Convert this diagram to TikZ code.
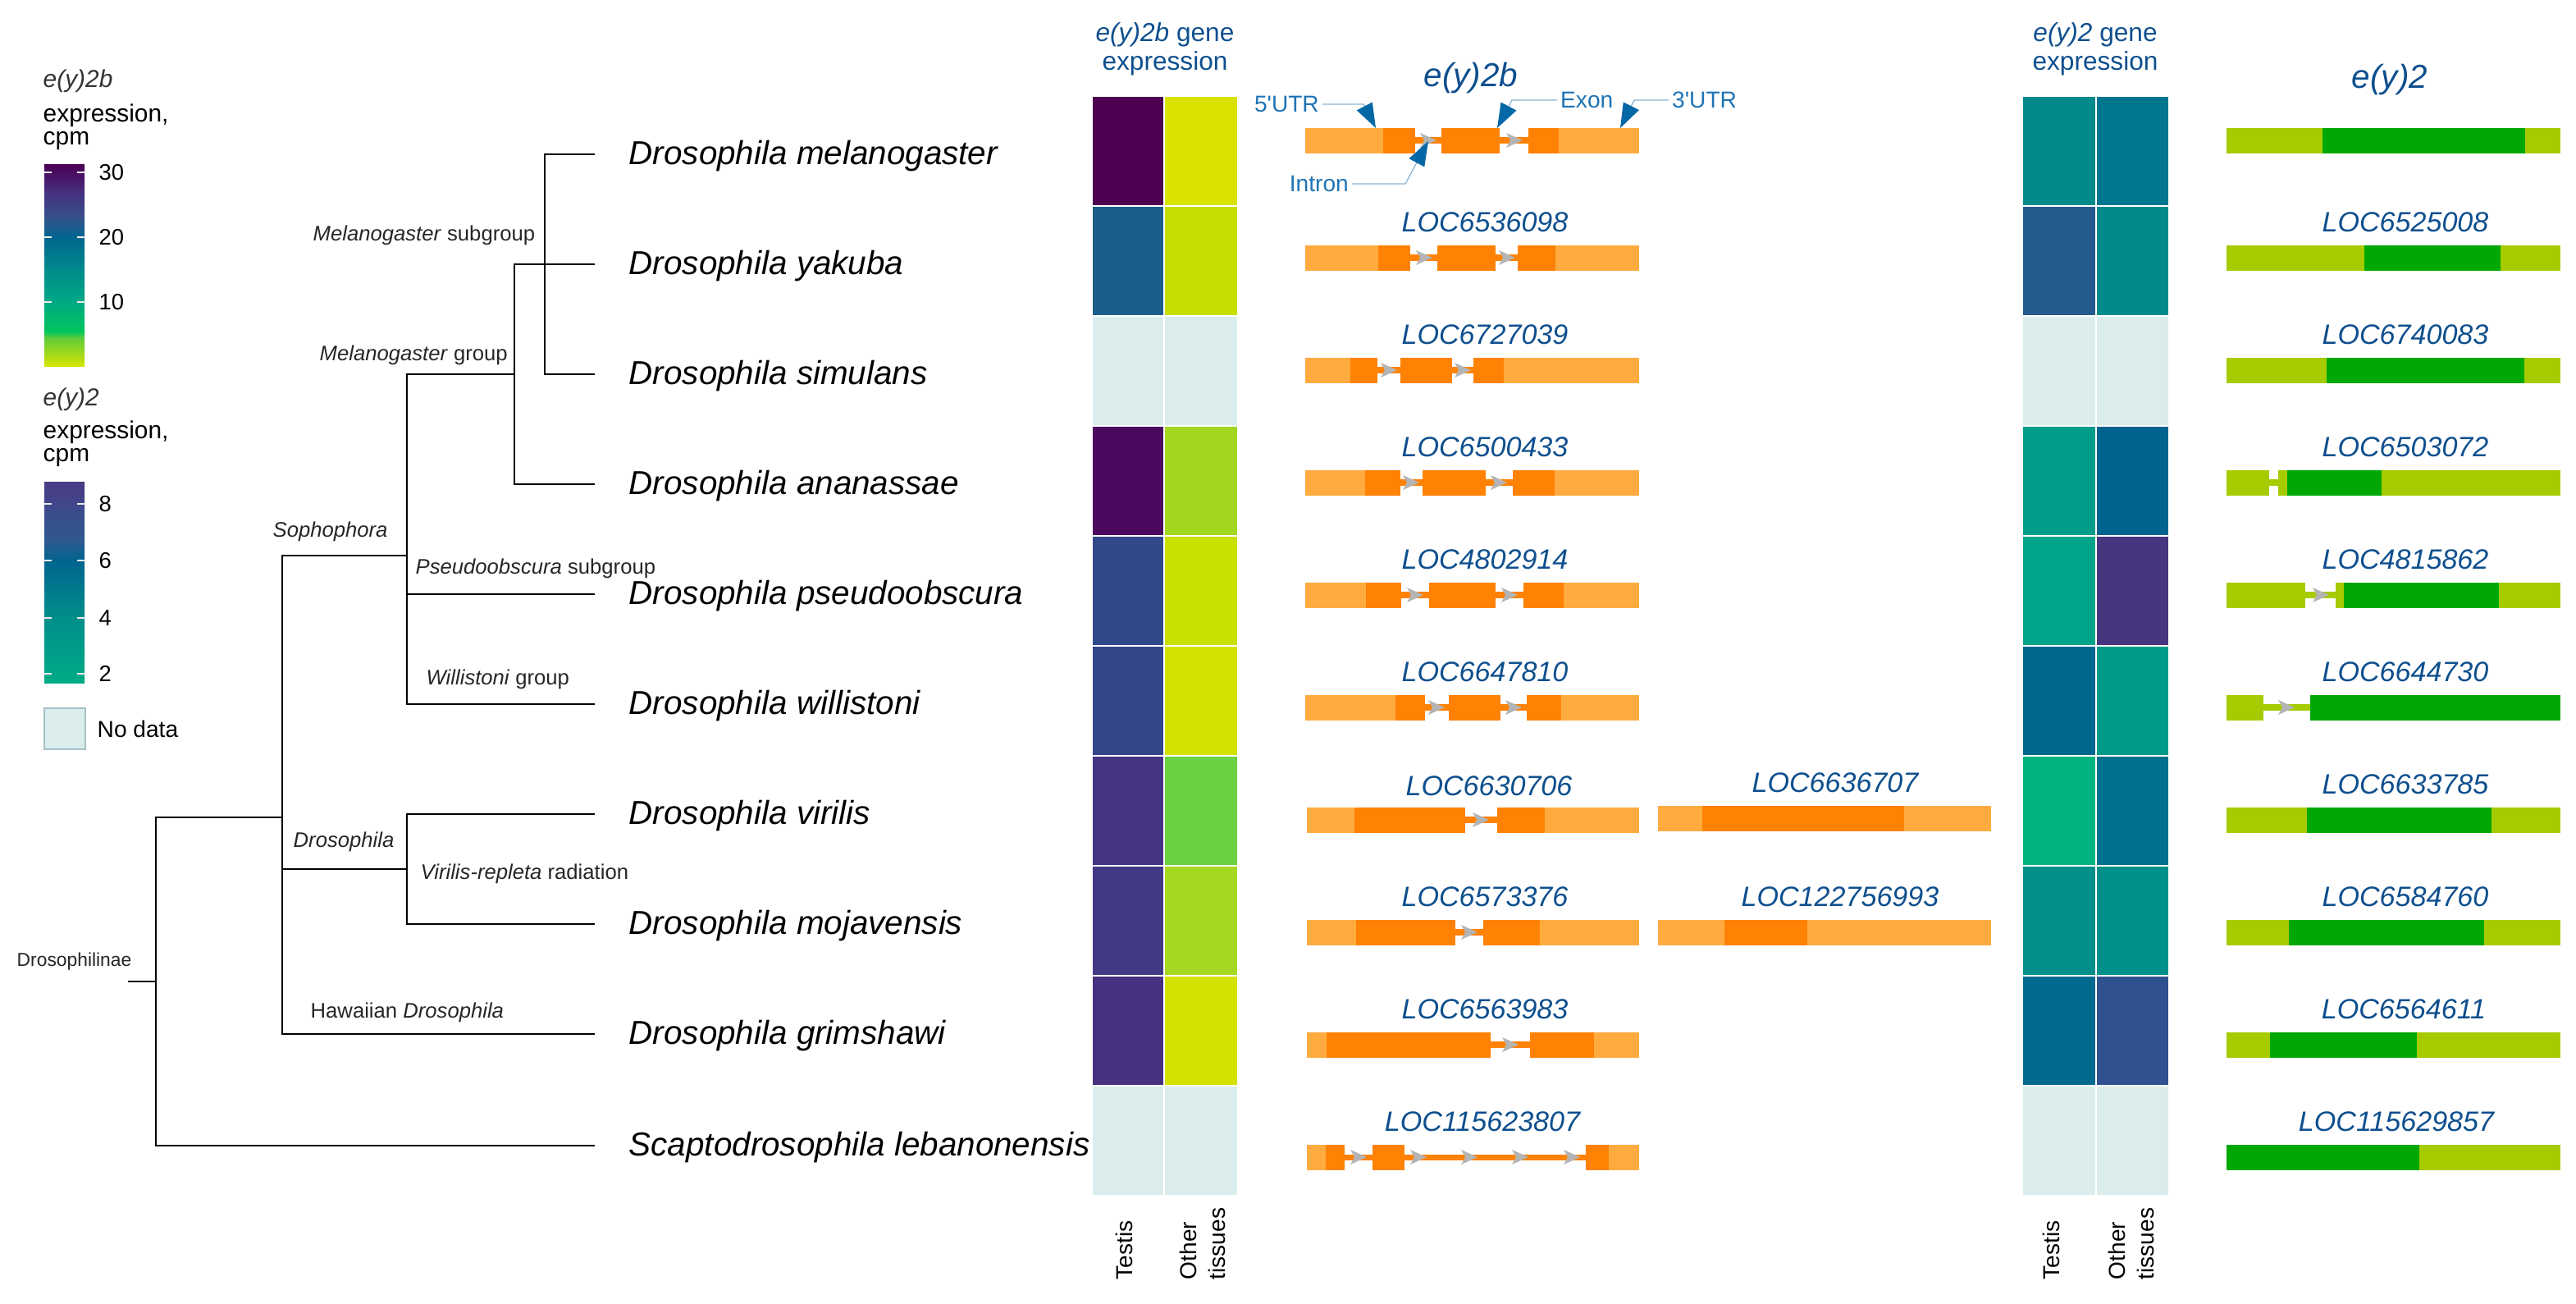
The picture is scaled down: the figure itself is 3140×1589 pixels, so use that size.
\documentclass[tikz,border=0pt]{standalone}
\usepackage{fontspec}
\setmainfont{Liberation Sans}
\usetikzlibrary{arrows.meta}

\definecolor{locblue}{HTML}{0E4F8E}
\definecolor{annblue}{HTML}{1E73B4}
\definecolor{annarrow}{HTML}{0568A6}
\definecolor{leadblue}{HTML}{8AB2D0}
\definecolor{orglight}{HTML}{FFAB40}
\definecolor{orgdark}{HTML}{FF8205}
\definecolor{grnlight}{HTML}{A6CB00}
\definecolor{grndark}{HTML}{00A806}
\definecolor{arrgray}{HTML}{B4B4B4}
\definecolor{nodata}{HTML}{DAEDEC}
\definecolor{nodataedge}{HTML}{A6C0C6}
% heatmap cells
\definecolor{bT1}{HTML}{4D0052}\definecolor{bT2}{HTML}{1A5F8C}\definecolor{bT4}{HTML}{4B0A5D}
\definecolor{bT5}{HTML}{31488A}\definecolor{bT6}{HTML}{334689}\definecolor{bT7}{HTML}{453383}
\definecolor{bT8}{HTML}{413886}\definecolor{bT9}{HTML}{46307F}
\definecolor{bO1}{HTML}{DAE300}\definecolor{bO2}{HTML}{C6DF00}\definecolor{bO4}{HTML}{A3D71F}
\definecolor{bO5}{HTML}{CAE000}\definecolor{bO6}{HTML}{D2E200}\definecolor{bO7}{HTML}{6AD240}
\definecolor{bO8}{HTML}{A6D822}\definecolor{bO9}{HTML}{D4E200}
\definecolor{cT1}{HTML}{008A8B}\definecolor{cT2}{HTML}{255A8E}\definecolor{cT4}{HTML}{009E8A}
\definecolor{cT5}{HTML}{00A48A}\definecolor{cT6}{HTML}{00688F}\definecolor{cT7}{HTML}{00B581}
\definecolor{cT8}{HTML}{008F8A}\definecolor{cT9}{HTML}{006A8F}
\definecolor{cO1}{HTML}{00768F}\definecolor{cO2}{HTML}{008A8B}\definecolor{cO4}{HTML}{00638F}
\definecolor{cO5}{HTML}{48357F}\definecolor{cO6}{HTML}{009A89}\definecolor{cO7}{HTML}{00718F}
\definecolor{cO8}{HTML}{00908A}\definecolor{cO9}{HTML}{30518F}
% colour bars
\definecolor{gA0}{HTML}{4B0055}\definecolor{gA1}{HTML}{46307F}\definecolor{gA2}{HTML}{35518A}
\definecolor{gA3}{HTML}{00668F}\definecolor{gA4}{HTML}{008C8B}\definecolor{gA5}{HTML}{00A985}
\definecolor{gA6}{HTML}{00C65C}\definecolor{gA7}{HTML}{5ECB3A}\definecolor{gA8}{HTML}{D6E500}
\definecolor{gB0}{HTML}{4A3A85}\definecolor{gB1}{HTML}{3F478A}\definecolor{gB2}{HTML}{2D5A8F}
\definecolor{gB3}{HTML}{00648F}\definecolor{gB4}{HTML}{007B8D}\definecolor{gB5}{HTML}{008E8B}
\definecolor{gB6}{HTML}{009E89}\definecolor{gB7}{HTML}{00AC84}

\begin{document}
\begin{tikzpicture}[x=0.1mm, y=-0.1mm,
    sp/.style={anchor=west, inner sep=0pt, font=\fontsize{11.5}{13}\selectfont\itshape},
    clade/.style={anchor=west, inner sep=0pt, text=black!85, font=\fontsize{7.3}{9}\selectfont},
    branch/.style={line width=0.7pt},
    cell/.style={draw=white, line width=0.6pt},
    hdr/.style={align=center, text=locblue, font=\fontsize{9}{9.8}\selectfont},
    ttl/.style={text=locblue, font=\fontsize{11.5}{13}\selectfont\itshape},
    loc/.style={text=locblue, font=\fontsize{9.7}{11}\selectfont\itshape},
    tis/.style={rotate=90, anchor=west, align=left, inner sep=0pt, font=\fontsize{8}{10}\selectfont},
    ann/.style={text=annblue, inner sep=1pt, font=\fontsize{8}{9}\selectfont},
    lead/.style={draw=leadblue, line width=0.35pt, -{Triangle[length=8.5pt, width=6pt, color=annarrow]}},
    leg/.style={anchor=west, inner sep=0pt, font=\fontsize{8.5}{10}\selectfont},
    legnum/.style={anchor=west, inner sep=0pt, font=\fontsize{7.8}{9}\selectfont},
    tick/.style={draw=white!85!gray, line width=0.5pt},
    intA/.style={draw=orgdark, line width=2pt},
    intB/.style={draw=grnlight, line width=2pt},
    utrA/.style={fill=orglight}, cdsA/.style={fill=orgdark},
    utrB/.style={fill=grnlight}, cdsB/.style={fill=grndark},
    arr/.style={fill=arrgray}]
\useasboundingbox (0,0) rectangle (3140,1589);

% legend
\node[leg, text=black!80] (lgA) at (52,99) {\textit{e(y)2b}};
\node[leg] (lgA2) at (52,141) {expression,};
\node[leg] (lgA3) at (52,172) {cpm};
\foreach \ya/\yb/\ca/\cb in {201/235/gA0/gA1, 235/265/gA1/gA2, 265/289/gA2/gA3, 289/330/gA3/gA4,
    330/368/gA4/gA5, 368/404/gA5/gA6, 404/412/gA6/gA7, 412/446/gA7/gA8}
  \shade[top color=\ca, bottom color=\cb] (54,\ya-0.5) rectangle (103,\yb+0.5);
\foreach \t/\v in {210/30, 289/20, 368/10} {
  \draw[tick] (54,\t) -- (63,\t); \draw[tick] (94,\t) -- (103,\t);
  \node[legnum] (lA\v) at (120,\t) {\v};
}
\node[leg, text=black!80] (lgB) at (52,487) {\textit{e(y)2}};
\node[leg] (lgB2) at (52,527) {expression,};
\node[leg] (lgB3) at (52,558) {cpm};
\foreach \ya/\yb/\ca/\cb in {588/614/gB0/gB1, 614/660/gB1/gB2, 660/683/gB2/gB3, 683/720/gB3/gB4,
    720/753/gB4/gB5, 753/795/gB5/gB6, 795/832/gB6/gB7}
  \shade[top color=\ca, bottom color=\cb] (54,\ya-0.5) rectangle (103,\yb+0.5);
\foreach \t/\v in {614/8, 683/6, 753/4, 821/2} {
  \draw[tick] (54,\t) -- (63,\t); \draw[tick] (94,\t) -- (103,\t);
  \node[legnum] (lB\v) at (120,\t) {\v};
}
\filldraw[fill=nodata, draw=nodataedge, line width=0.6pt] (54,863) rectangle (104,913);
\node[legnum, font=\fontsize{8}{9}\selectfont] (lgNo) at (118,888) {No data};

% tree
\coordinate (rootL) at (156,1196);
\coordinate (nRoot) at (190,1196);
\coordinate (nDros) at (344,996);
\coordinate (nSoph) at (496,677);
\coordinate (nDsub) at (496,1059);
\coordinate (nMgrp) at (627,456);
\coordinate (nMsub) at (664,322);
\foreach \n/\y in {Mel/188, Yak/322, Sim/456, Ana/590, Pse/724, Wil/858, Vir/992, Moj/1126, Gri/1260, Scap/1396}
  \coordinate (t\n) at (725,\y);
\draw[branch] (rootL) -- (nRoot);
\draw[branch] (nRoot) |- (nDros);
\draw[branch] (nRoot) |- (tScap);
\draw[branch] (nDros) |- (nSoph);
\draw[branch] (nDros) |- (nDsub);
\draw[branch] (nDros) |- (tGri);
\draw[branch] (nSoph) |- (nMgrp);
\draw[branch] (nSoph) |- (tPse);
\draw[branch] (nSoph) |- (tWil);
\draw[branch] (nMgrp) |- (tYak);
\draw[branch] (nMgrp) |- (tAna);
\draw[branch] (nMsub) |- (tMel);
\draw[branch] (nMsub) |- (tSim);
\draw[branch] (nDsub) |- (tVir);
\draw[branch] (nDsub) |- (tMoj);

\node[clade, font=\fontsize{6.5}{8}\selectfont] (cRoot) at (20,1172) {Drosophilinae};
\node[clade] (cMsub) at (381,287) {\textit{Melanogaster} subgroup};
\node[clade] (cMgrp) at (389,433) {\textit{Melanogaster} group};
\node[clade] (cSoph) at (332,648) {\textit{Sophophora}};
\node[clade] (cPse) at (506,693) {\textit{Pseudoobscura} subgroup};
\node[clade] (cWil) at (519,828) {\textit{Willistoni} group};
\node[clade] (cDros) at (357,1026) {\textit{Drosophila}};
\node[clade] (cVir) at (512,1065) {\textit{Virilis-repleta} radiation};
\node[clade] (cHaw) at (378,1234) {Hawaiian \textit{Drosophila}};

\node[sp] (sMel) at (766,190) {Drosophila melanogaster};
\node[sp] (sYak) at (766,324) {Drosophila yakuba};
\node[sp] (sSim) at (766,458) {Drosophila simulans};
\node[sp] (sAna) at (766,592) {Drosophila ananassae};
\node[sp] (sPse) at (766,726) {Drosophila pseudoobscura};
\node[sp] (sWil) at (766,860) {Drosophila willistoni};
\node[sp] (sVir) at (766,994) {Drosophila virilis};
\node[sp] (sMoj) at (766,1128) {Drosophila mojavensis};
\node[sp] (sGri) at (766,1262) {Drosophila grimshawi};
\node[sp] (sScap) at (766,1398) {Scaptodrosophila lebanonensis};

% heatmaps
\node[hdr] (hdA) at (1420,60) {\textit{e(y)2b} gene\\expression};
\node[hdr] (hdB) at (2554,60) {\textit{e(y)2} gene\\expression};
\foreach \k/\ct/\co/\dt/\do in {0/bT1/bO1/cT1/cO1, 1/bT2/bO2/cT2/cO2, 2/nodata/nodata/nodata/nodata,
    3/bT4/bO4/cT4/cO4, 4/bT5/bO5/cT5/cO5, 5/bT6/bO6/cT6/cO6, 6/bT7/bO7/cT7/cO7,
    7/bT8/bO8/cT8/cO8, 8/bT9/bO9/cT9/cO9, 9/nodata/nodata/nodata/nodata} {
  \filldraw[cell, fill=\ct] (1331,117+134*\k) rectangle (1419,251+134*\k);
  \filldraw[cell, fill=\co] (1419,117+134*\k) rectangle (1509,251+134*\k);
  \filldraw[cell, fill=\dt] (2465,117+134*\k) rectangle (2555,251+134*\k);
  \filldraw[cell, fill=\do] (2555,117+134*\k) rectangle (2644,251+134*\k);
}
\node[tis] (tsA) at (1370,1560) {Testis};
\node[tis] (otA) at (1466,1560) {Other\\tissues};
\node[tis] (tsB) at (2500,1560) {Testis};
\node[tis] (otB) at (2598,1560) {Other\\tissues};

% e(y)2b gene models
\node[ttl] (tA) at (1793,95) {e(y)2b};
\draw[intA] (1725,171) -- (1863,171);
\foreach \s/\a/\b in {utrA/1591/1686, cdsA/1686/1725, cdsA/1757/1828, cdsA/1863/1900, utrA/1900/1998}
  \fill[\s] (\a,171-15.5) rectangle (\b,171+15.5);
\foreach \m in {1741,1846} \fill[arr] (\m-10,162) -- (\m+10,171) -- (\m-10,180) -- (\m-5,171) -- cycle;

\node[loc] (gA2) at (1810,271) {LOC6536098};
\draw[intA] (1719,314) -- (1850,314);
\foreach \s/\a/\b in {utrA/1591/1680, cdsA/1680/1719, cdsA/1752/1823, cdsA/1850/1896, utrA/1896/1998}
  \fill[\s] (\a,314-15.5) rectangle (\b,314+15.5);
\foreach \m in {1736,1837} \fill[arr] (\m-10,305) -- (\m+10,314) -- (\m-10,323) -- (\m-5,314) -- cycle;

\node[loc] (gA3) at (1810,408) {LOC6727039};
\draw[intA] (1679,451) -- (1796,451);
\foreach \s/\a/\b in {utrA/1591/1646, cdsA/1646/1679, cdsA/1707/1770, cdsA/1796/1833, utrA/1833/1998}
  \fill[\s] (\a,451-15.5) rectangle (\b,451+15.5);
\foreach \m in {1693,1783} \fill[arr] (\m-10,442) -- (\m+10,451) -- (\m-10,460) -- (\m-5,451) -- cycle;

\node[loc] (gA4) at (1810,545) {LOC6500433};
\draw[intA] (1707,588) -- (1844,588);
\foreach \s/\a/\b in {utrA/1591/1664, cdsA/1664/1707, cdsA/1734/1811, cdsA/1844/1895, utrA/1895/1998}
  \fill[\s] (\a,588-15.5) rectangle (\b,588+15.5);
\foreach \m in {1720,1827} \fill[arr] (\m-10,579) -- (\m+10,588) -- (\m-10,597) -- (\m-5,588) -- cycle;

\node[loc] (gA5) at (1810,682) {LOC4802914};
\draw[intA] (1708,725) -- (1857,725);
\foreach \s/\a/\b in {utrA/1591/1665, cdsA/1665/1708, cdsA/1742/1823, cdsA/1857/1906, utrA/1906/1998}
  \fill[\s] (\a,725-15.5) rectangle (\b,725+15.5);
\foreach \m in {1725,1840} \fill[arr] (\m-10,716) -- (\m+10,725) -- (\m-10,734) -- (\m-5,725) -- cycle;

\node[loc] (gA6) at (1810,819) {LOC6647810};
\draw[intA] (1737,862) -- (1861,862);
\foreach \s/\a/\b in {utrA/1591/1701, cdsA/1701/1737, cdsA/1766/1829, cdsA/1861/1903, utrA/1903/1998}
  \fill[\s] (\a,862-15.5) rectangle (\b,862+15.5);
\foreach \m in {1751,1845} \fill[arr] (\m-10,853) -- (\m+10,862) -- (\m-10,871) -- (\m-5,862) -- cycle;

\node[loc] (gA7) at (1815,958) {LOC6630706};
\draw[intA] (1786,999) -- (1825,999);
\foreach \s/\a/\b in {utrA/1593/1651, cdsA/1651/1786, cdsA/1825/1883, utrA/1883/1998}
  \fill[\s] (\a,999-15.5) rectangle (\b,999+15.5);
\fill[arr] (1795,990) -- (1815,999) -- (1795,1008) -- (1800,999) -- cycle;
\node[loc] (gA7b) at (2237,954) {LOC6636707};
\foreach \s/\a/\b in {utrA/2021/2075, cdsA/2075/2321, utrA/2321/2427}
  \fill[\s] (\a,997-15.5) rectangle (\b,997+15.5);

\node[loc] (gA8) at (1810,1093) {LOC6573376};
\draw[intA] (1774,1136) -- (1808,1136);
\foreach \s/\a/\b in {utrA/1593/1653, cdsA/1653/1774, cdsA/1808/1877, utrA/1877/1998}
  \fill[\s] (\a,1136-15.5) rectangle (\b,1136+15.5);
\fill[arr] (1781,1127) -- (1801,1136) -- (1781,1145) -- (1786,1136) -- cycle;
\node[loc] (gA8b) at (2243,1093) {LOC122756993};
\foreach \s/\a/\b in {utrA/2021/2102, cdsA/2102/2203, utrA/2203/2427}
  \fill[\s] (\a,1136-15.5) rectangle (\b,1136+15.5);

\node[loc] (gA9) at (1810,1230) {LOC6563983};
\draw[intA] (1817,1273) -- (1865,1273);
\foreach \s/\a/\b in {utrA/1593/1617, cdsA/1617/1817, cdsA/1865/1943, utrA/1943/1998}
  \fill[\s] (\a,1273-15.5) rectangle (\b,1273+15.5);
\fill[arr] (1831,1264) -- (1851,1273) -- (1831,1282) -- (1836,1273) -- cycle;

\node[loc] (gA10) at (1807,1367) {LOC115623807};
\draw[intA] (1639,1410) -- (1933,1410);
\foreach \s/\a/\b in {utrA/1593/1616, cdsA/1616/1639, cdsA/1673/1712, cdsA/1933/1961, utrA/1961/1998}
  \fill[\s] (\a,1410-15.5) rectangle (\b,1410+15.5);
\foreach \m in {1656,1729,1791,1853,1916} \fill[arr] (\m-10,1401) -- (\m+10,1410) -- (\m-10,1419) -- (\m-5,1410) -- cycle;

% annotations on the first model
\node[ann, anchor=east] (aU5) at (1612,127) {5\textquotesingle UTR};
\node[ann, anchor=west] (aEx) at (1898,122) {Exon};
\node[ann, anchor=west] (aU3) at (2034,122) {3\textquotesingle UTR};
\node[ann, anchor=east] (aIn) at (1648,224) {Intron};
\coordinate (kU5) at (1662,127); \coordinate (pU5) at (1677,156);
\coordinate (kEx) at (1843,122); \coordinate (pEx) at (1825,156);
\coordinate (kU3) at (1992,122); \coordinate (pU3) at (1975,156);
\coordinate (kIn) at (1713,224); \coordinate (pIn) at (1741,172);
\draw[lead] (aU5) -- (kU5) -- (pU5);
\draw[lead] (aEx) -- (kEx) -- (pEx);
\draw[lead] (aU3) -- (kU3) -- (pU3);
\draw[lead] (aIn) -- (kIn) -- (pIn);

% e(y)2 gene models
\node[ttl] (tB) at (2913,97) {e(y)2};
\foreach \s/\a/\b in {utrB/2714/2831, cdsB/2831/3078, utrB/3078/3121}
  \fill[\s] (\a,171-15.5) rectangle (\b,171+15.5);
\node[loc] (gB2) at (2932,271) {LOC6525008};
\foreach \s/\a/\b in {utrB/2714/2882, cdsB/2882/3048, utrB/3048/3121}
  \fill[\s] (\a,314-15.5) rectangle (\b,314+15.5);
\node[loc] (gB3) at (2932,408) {LOC6740083};
\foreach \s/\a/\b in {utrB/2714/2836, cdsB/2836/3077, utrB/3077/3121}
  \fill[\s] (\a,451-15.5) rectangle (\b,451+15.5);
\node[loc] (gB4) at (2932,545) {LOC6503072};
\draw[intB] (2766,588) -- (2777,588);
\foreach \s/\a/\b in {utrB/2714/2766, utrB/2777/2788, cdsB/2788/2903, utrB/2903/3121}
  \fill[\s] (\a,588-15.5) rectangle (\b,588+15.5);
\node[loc] (gB5) at (2932,682) {LOC4815862};
\draw[intB] (2810,725) -- (2847,725);
\foreach \s/\a/\b in {utrB/2714/2810, utrB/2847/2857, cdsB/2857/3046, utrB/3046/3121}
  \fill[\s] (\a,725-15.5) rectangle (\b,725+15.5);
\fill[arr] (2819,716) -- (2839,725) -- (2819,734) -- (2824,725) -- cycle;
\node[loc] (gB6) at (2932,819) {LOC6644730};
\draw[intB] (2759,862) -- (2816,862);
\foreach \s/\a/\b in {utrB/2714/2759, cdsB/2816/3121}
  \fill[\s] (\a,862-15.5) rectangle (\b,862+15.5);
\fill[arr] (2777,853) -- (2797,862) -- (2777,871) -- (2782,862) -- cycle;
\node[loc] (gB7) at (2932,956) {LOC6633785};
\foreach \s/\a/\b in {utrB/2714/2812, cdsB/2812/3037, utrB/3037/3121}
  \fill[\s] (\a,999-15.5) rectangle (\b,999+15.5);
\node[loc] (gB8) at (2932,1093) {LOC6584760};
\foreach \s/\a/\b in {utrB/2714/2790, cdsB/2790/3028, utrB/3028/3121}
  \fill[\s] (\a,1136-15.5) rectangle (\b,1136+15.5);
\node[loc] (gB9) at (2930,1230) {LOC6564611};
\foreach \s/\a/\b in {utrB/2714/2767, cdsB/2767/2946, utrB/2946/3121}
  \fill[\s] (\a,1273-15.5) rectangle (\b,1273+15.5);
\node[loc] (gB10) at (2921,1367) {LOC115629857};
\foreach \s/\a/\b in {cdsB/2714/2949, utrB/2949/3121}
  \fill[\s] (\a,1410-15.5) rectangle (\b,1410+15.5);
\end{tikzpicture}
\end{document}
